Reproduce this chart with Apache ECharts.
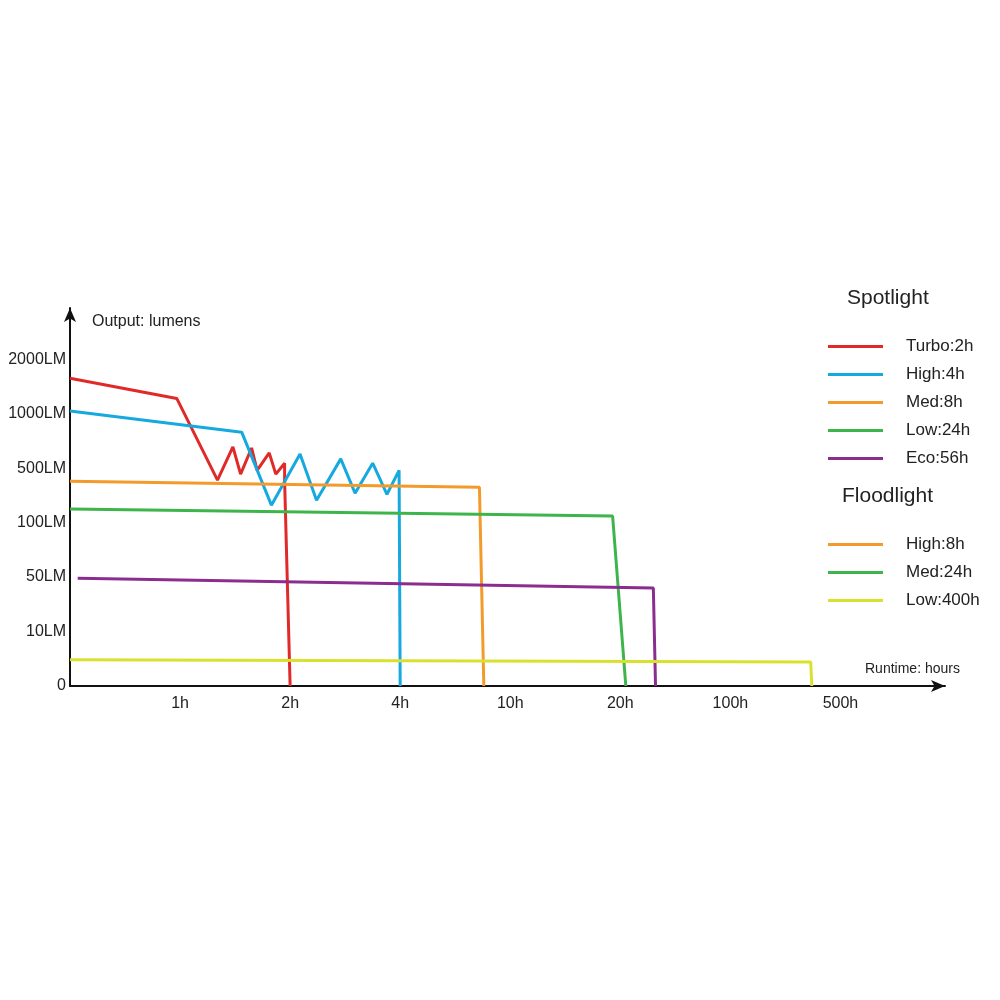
<!DOCTYPE html><html><head><meta charset="utf-8"><script src="https://cdn.jsdelivr.net/npm/echarts@6/dist/echarts.min.js"></script></head><body style="margin:0"><div id="c" style="width:1000px;height:1000px"></div><script>
const xTickLabels=['','1h','2h','4h','10h','20h','100h','500h'];
const yTickLabels=['0','10LM','50LM','100LM','500LM','1000LM','2000LM'];
// x,y in axis-position units (1 unit per tick)
const turbo=[[0,5.65],[0.97,5.28],[1.34,3.78],[1.48,4.39],[1.55,3.89],[1.65,4.37],[1.70,3.96],[1.81,4.28],[1.87,3.89],[1.95,4.09],[1.95,3.76],[2,0]];
const high=[[0,5.05],[1.56,4.66],[1.83,3.32],[2.09,4.26],[2.24,3.41],[2.46,4.17],[2.59,3.54],[2.75,4.09],[2.88,3.52],[2.99,3.96],[3,0]];
const med=[[0,3.76],[3.72,3.65],[3.76,0]];
const low=[[0,3.25],[4.93,3.12],[5.05,0]];
const eco=[[0.07,1.98],[5.3,1.8],[5.32,0]];
const floodLow=[[0,0.48],[6.73,0.44],[6.74,0]];
const C={red:'#e02a28',blue:'#16a9e0',orange:'#f39a2b',green:'#3db54a',purple:'#8b2c8f',yellow:'#d9e12f'};
const s=(name,data,color)=>({name,type:'line',data,symbol:'none',lineStyle:{width:3,color},itemStyle:{color},animation:false});
const ch=echarts.init(document.getElementById('c'));
const lg={orient:'vertical',left:823,icon:'rect',itemWidth:55,itemHeight:3,itemGap:11,textStyle:{fontSize:17,color:'#222',padding:[0,0,0,18]},selectedMode:false};
ch.setOption({
grid:{left:70,top:308,right:55,bottom:314},
xAxis:{type:'value',min:0,max:7.95,interval:1,splitLine:{show:false},axisTick:{show:false},
 axisLine:{lineStyle:{color:'#111',width:2},symbol:['none','arrow'],symbolSize:[9,14]},
 axisLabel:{fontSize:16,color:'#222',margin:10,showMaxLabel:false,formatter:v=>xTickLabels[Math.round(v)]||''}},
yAxis:{type:'value',min:0,max:6.94,interval:1,splitLine:{show:false},axisTick:{show:false},
 axisLine:{show:true,lineStyle:{color:'#111',width:2},symbol:['none','arrow'],symbolSize:[9,14]},
 axisLabel:{fontSize:16,color:'#222',margin:4,showMaxLabel:false,formatter:v=>yTickLabels[Math.round(v)]||''}},
legend:[Object.assign({},lg,{top:333,data:['Turbo:2h','High:4h','Med:8h','Low:24h','Eco:56h']}),
 Object.assign({},lg,{top:531,data:['High:8h','Med:24h','Low:400h']})],
graphic:[
 {type:'text',left:847,top:288,style:{text:'Spotlight',fontSize:21,fill:'#222'}},
 {type:'text',left:842,top:486,style:{text:'Floodlight',fontSize:21,fill:'#222'}},
 {type:'text',left:92,top:314,style:{text:'Output: lumens',fontSize:16,fill:'#222'}},
 {type:'text',left:865,top:662,style:{text:'Runtime: hours',fontSize:14,fill:'#222'}}],
series:[s('Turbo:2h',turbo,C.red),s('High:4h',high,C.blue),s('Med:8h',med,C.orange),s('Low:24h',low,C.green),s('Eco:56h',eco,C.purple),
 s('High:8h',[],C.orange),s('Med:24h',[],C.green),s('Low:400h',floodLow,C.yellow)]
});
</script></body></html>
